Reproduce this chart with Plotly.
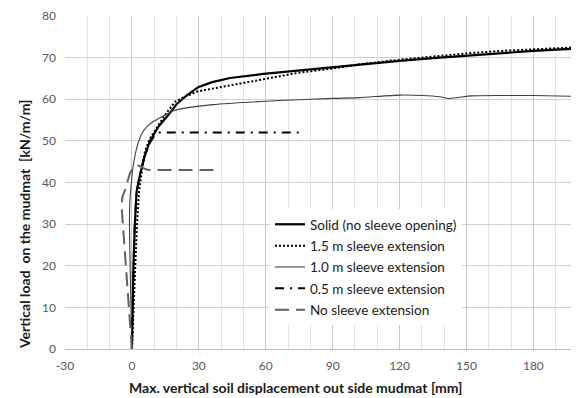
import plotly.graph_objects as go

# Solid (no sleeve opening)
solid_x = [0, 0.3, 0.7, 1.3, 2.1, 3.6, 5.5, 8.1, 12, 16.3, 20, 24.5, 29.7, 36, 44, 59, 74, 89, 102, 120, 135, 150, 165, 180, 200]
solid_y = [0, 10, 20, 30, 37.8, 41.8, 46, 50, 53.5, 56.2, 58.8, 60.9, 62.9, 64.1, 65.1, 66.1, 66.9, 67.6, 68.3, 69.2, 69.9, 70.5, 71.1, 71.6, 72.2]

# 1.5 m sleeve extension
ext15_x = [0, 0.9, 1.5, 2.3, 3.2, 4.3, 5.8, 8, 11, 14.8, 19.3, 24.5, 29.6, 44, 59, 74, 89, 102, 120, 135, 150, 165, 180, 200]
ext15_y = [0, 10, 20, 30, 38, 42, 47.4, 50.5, 53, 56.2, 59.4, 60.8, 61.9, 63.3, 64.7, 66.3, 67.3, 68.4, 69.5, 70.3, 71.0, 71.6, 72.0, 72.5]

# 1.0 m sleeve extension
ext10_x = [0, -0.4, -0.8, -1.1, -0.9, -0.3, 0.3, 1.2, 2.5, 4.2, 6.5, 9.5, 13, 19, 36.4, 66, 90, 102, 120, 130, 138, 142, 146, 152, 165, 180, 200]
ext10_y = [0, 10, 20, 30, 35.8, 39.5, 43, 46, 49, 51.5, 53.3, 54.6, 55.7, 57.3, 58.7, 59.7, 60.2, 60.4, 61.0, 60.9, 60.6, 60.2, 60.4, 60.8, 60.9, 60.9, 60.7]

# 0.5 m sleeve extension
ext05_x = [0, 0.3, 0.7, 1.3, 2.1, 3.6, 5.5, 8, 10, 12, 40, 60, 76]
ext05_y = [0, 10, 20, 30, 37.8, 41.8, 46, 49.5, 51.2, 52, 52.1, 52, 52]

# No sleeve extension
ext00_x = [0, -0.7, -1.3, -1.9, -2.5, -3.2, -4.0, -4.6, -4.3, -3.1, -0.9, 0.5, 2.5, 5, 6.5, 8, 39]
ext00_y = [0, 5, 10, 15, 20, 25, 30, 34, 36.5, 38.2, 42.2, 43.5, 44.2, 43.6, 43.1, 43, 43]

x_ticks = [-30, 0, 30, 60, 90, 120, 150, 180]
y_ticks = [0, 10, 20, 30, 40, 50, 60, 70, 80]

FONT = "Lato"
OFF = 8  # page body margin in the browser

fig = go.Figure()
fig.add_trace(go.Scatter(x=solid_x, y=solid_y, mode="lines", name="Solid (no sleeve opening)",
                         line=dict(color="#000000", width=2.2), legendgroup="a"))
fig.add_trace(go.Scatter(x=ext15_x, y=ext15_y, mode="lines", name="1.5 m sleeve extension",
                         line=dict(color="#000000", width=2, dash="2px,2px"), legendgroup="b"))
fig.add_trace(go.Scatter(x=ext10_x, y=ext10_y, mode="lines", name="1.0 m sleeve extension",
                         line=dict(color="#404040", width=1.1, shape="spline", smoothing=0.6), legendgroup="c"))
fig.add_trace(go.Scatter(x=ext05_x, y=ext05_y, mode="lines", name="0.5 m sleeve extension",
                         line=dict(color="#000000", width=2, dash="9px,6px,2px,6px"), legendgroup="d"))
fig.add_trace(go.Scatter(x=ext00_x, y=ext00_y, mode="lines", name="No sleeve extension",
                         line=dict(color="#606060", width=2, dash="14px,7px"), legendgroup="e"))

PL, PR, PT, PB = 65, 578, 16, 349   # plot area in page pixels
W, H = 579 - OFF, 398 - OFF
pw, ph = PR - PL, PB - PT

fig.update_layout(
    width=W, height=H,
    margin=dict(l=PL - OFF, r=579 - PR, t=PT - OFF, b=398 - PB, autoexpand=False),
    plot_bgcolor="white", paper_bgcolor="white",
    font=dict(family=FONT, color="#595959"),
    showlegend=True,
    legend=dict(x=(270 - PL) / pw, y=(PB - 209) / ph, xanchor="left", yanchor="top",
                bgcolor="white", borderwidth=0,
                font=dict(family=FONT, size=13.5, color="#1a1a1a"),
                tracegroupgap=0.8),
    xaxis=dict(range=[-30, 200], tickvals=x_ticks, ticktext=[str(v) for v in x_ticks],
               showgrid=True, gridcolor="#c8c8c8", gridwidth=1,
               minor=dict(dtick=10, tick0=0, showgrid=True, gridcolor="#e4e4e4", gridwidth=1),
               zeroline=False, showline=True, linecolor="#bfbfbf", linewidth=1,
               ticks="", tickfont=dict(size=12, color="#595959"), ticklabelstandoff=6),
    yaxis=dict(range=[0, 80], tickvals=y_ticks, ticktext=[str(v) for v in y_ticks],
               showgrid=True, gridcolor="#d0d0d0", gridwidth=1,
               zeroline=False, showline=False,
               ticks="", tickfont=dict(size=12, color="#595959"), ticklabelstandoff=8),
    annotations=[
        dict(text="<b>Max. vertical soil displacement out side mudmat [mm]</b>",
             xref="paper", yref="paper", x=(295 - PL) / pw, y=-(388 - PB) / ph,
             xanchor="center", yanchor="middle", showarrow=False,
             font=dict(family=FONT, size=14, color="#1a1a1a")),
        dict(text="<b>Vertical load  on the mudmat  [kN/m/m]</b>",
             xref="paper", yref="paper", x=-(PL - 25) / pw, y=(PB - 225) / ph,
             xanchor="center", yanchor="middle", showarrow=False, textangle=-90,
             font=dict(family=FONT, size=14, color="#1a1a1a")),
    ],
)

fig.write_html("out.html")
